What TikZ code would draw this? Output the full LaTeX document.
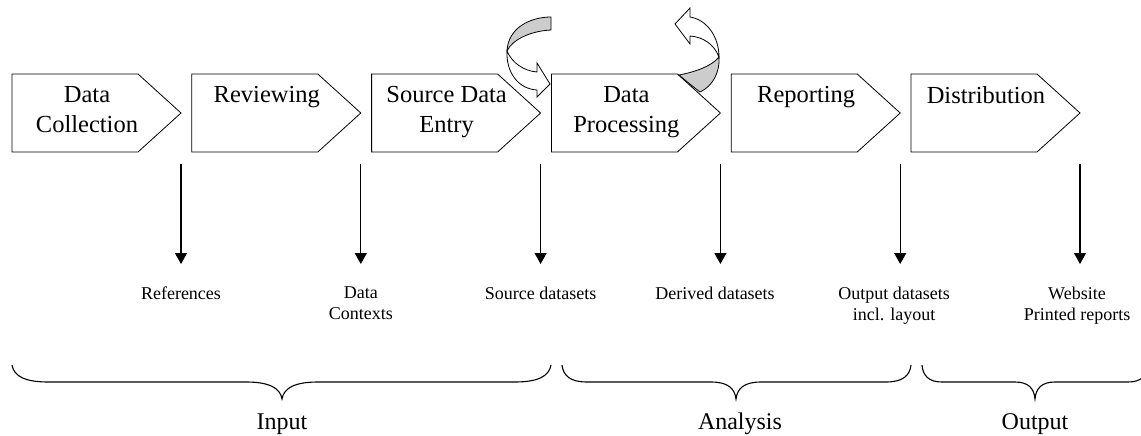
\documentclass[tikz,border=0pt]{standalone}
\usepackage{fontspec}
\setmainfont{Liberation Serif}
\usetikzlibrary{arrows.meta}

\tikzset{
  stage/.style={draw=black, line width=0.8pt, fill=white, line join=miter},
  stagetext/.style={anchor=north, inner sep=0pt, align=center, font=\fontsize{24.5}{30}\selectfont},
  outlabel/.style={anchor=north, inner sep=0pt, align=center, font=\fontsize{18}{21}\selectfont},
  phase/.style={anchor=base, inner sep=0pt, font=\fontsize{24}{29}\selectfont},
  flow/.style={draw=black, line width=1.2pt, -{Triangle[length=11pt,width=12pt]}},
  bracket/.style={draw=black, line width=1.1pt},
  ribbonfront/.style={draw=black, line width=0.8pt, fill=white, line join=miter},
  ribbonback/.style={draw=black, line width=0.8pt, fill=gray!40, line join=miter},
}

% curly brace: left end, right end, tip position, curl width
\newcommand\phasebrace[4]{%
  \draw[bracket] (#1,365) .. controls (#1+0.05*#4,376) and (#1+0.35*#4,382) .. (#1+#4,382)
    -- (#3-#4,382) .. controls (#3-0.35*#4,382) and (#3-0.05*#4,388) .. (#3,399)
    .. controls (#3+0.05*#4,388) and (#3+0.35*#4,382) .. (#3+#4,382)
    -- (#2-#4,382) .. controls (#2-0.35*#4,382) and (#2-0.05*#4,376) .. (#2,365);}

\begin{document}
\begin{tikzpicture}[x=1pt,y=-1pt]
\useasboundingbox (0,0) rectangle (1141,436);
\clip (0,0) rectangle (1141,436);

% process stages
\foreach \i/\txt in {0/{Data\\Collection}, 1/{Reviewing}, 2/{Source Data\\Entry},
                     3/{Data\\Processing}, 4/{Reporting}, 5/{Distribution}} {
  \pgfmathsetmacro\l{12+179.8*\i}
  \draw[stage] (\l,74) -- (\l+126,74) -- (\l+169,113) -- (\l+126,152) -- (\l,152) -- cycle;
  \node[stagetext] (s\i) at (\l+75,86.5) {\txt};
  \coordinate (a\i) at (\l+169,164);
  \coordinate (b\i) at (\l+169,264);
  \draw[flow] (a\i) -- (b\i);
}

% products of each stage
\node[outlabel] (o0) at (181,287) {References};
\node[outlabel] (o1) at (360.8,287) {Data\\Contexts};
\node[outlabel] (o2) at (540.6,287) {Source datasets};
\node[outlabel] (o3) at (715,287) {Derived datasets};
\node[outlabel] (o4) at (894,287) {Output datasets\\incl. layout};
\node[outlabel] (o5) at (1077,287) {Website\\Printed reports};

% iteration arrow into data processing
\draw[ribbonback] (551,17) .. controls (530,17) and (508,28) .. (507,51)
  .. controls (512,40) and (530,31) .. (551,30) -- cycle;
\draw[ribbonfront] (507,51) .. controls (512,63) and (524,71) .. (537,72)
  -- (537,63) -- (550,84) -- (537,97) -- (537,90)
  .. controls (518,89) and (506,72) .. (507,51) -- cycle;

% feedback arrow out of data processing
\draw[ribbonback] (679,75) .. controls (695,72) and (712,66) .. (719,57)
  .. controls (720,72) and (713,86) .. (700,92)
  .. controls (692,86) and (685,80) .. (679,75) -- cycle;
\draw[ribbonfront] (690,17) .. controls (708,20) and (719,38) .. (719,57)
  .. controls (714,44) and (703,37) .. (690,36)
  -- (690,44) -- (675,24) -- (690,8) -- cycle;

% phases
\phasebrace{12}{551}{282}{36}
\phasebrace{562}{911}{736}{25}
\phasebrace{922}{1148}{1035}{20}
\node[phase] (ph0) at (282,429) {Input};
\node[phase] (ph1) at (740,429) {Analysis};
\node[phase] (ph2) at (1035,429) {Output};
\end{tikzpicture}
\end{document}
